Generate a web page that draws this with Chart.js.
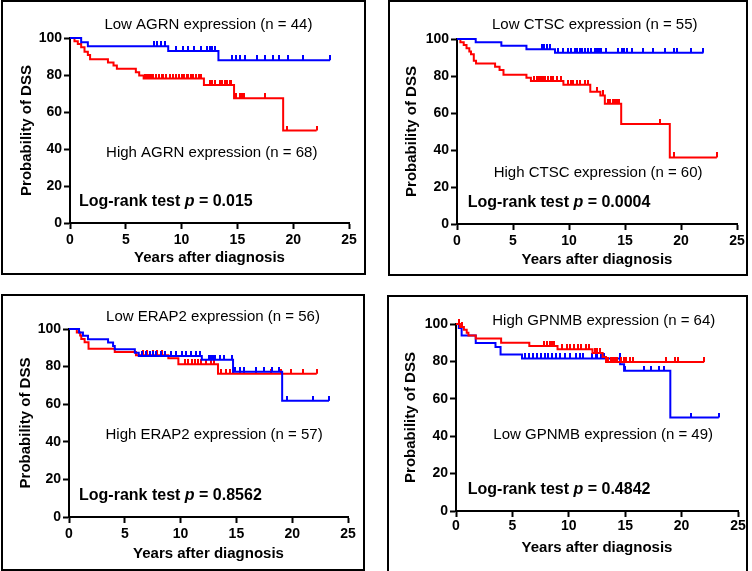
<!DOCTYPE html>
<html>
<head>
<meta charset="utf-8">
<script src="https://cdn.jsdelivr.net/npm/chart.js@4.4.1/dist/chart.umd.min.js"></script>
<style>
  html, body { margin: 0; padding: 0; background: #fff; width: 752px; height: 571px; overflow: hidden; }
  .panel { position: absolute; }
  .panel canvas { position: absolute; left: 0; top: 0; }
  .panel .frame { position: absolute; left: 0; top: 0; right: 0; bottom: 0; border: 2px solid #000; box-sizing: border-box; pointer-events: none; }
</style>
</head>
<body>
<div class="panel" style="left:1px;top:0px;width:365px;height:275px"><canvas id="c1" width="365" height="275"></canvas><div class="frame"></div></div>
<div class="panel" style="left:388px;top:0px;width:360px;height:276px"><canvas id="c2" width="360" height="276"></canvas><div class="frame"></div></div>
<div class="panel" style="left:1px;top:294px;width:364px;height:277px"><canvas id="c3" width="364" height="277"></canvas><div class="frame"></div></div>
<div class="panel" style="left:387px;top:295px;width:361px;height:280px"><canvas id="c4" width="361" height="280"></canvas><div class="frame"></div></div>
<script>
// axis ticks
const xTicks = [0, 5, 10, 15, 20, 25];
const yTicks = [0, 20, 40, 60, 80, 100];

// AGRN (top left)
const agrnLowTimes = [0, 1.0, 1.6, 8.8, 13.3, 23.3];
const agrnLowSurv = [100, 97.7, 95.5, 93.0, 88.0, 88.0];
const agrnLowCensor = [7.55, 7.8, 8.15, 8.55, 9.5, 10.1, 10.55, 11.1, 11.7, 12.3, 12.5, 12.7, 13.0, 14.5, 14.9, 15.2, 15.7, 16.8, 17.5, 18.2, 18.7, 19.5, 20.9, 23.3];
const agrnHighTimes = [0, 0.4, 0.7, 1.0, 1.3, 1.6, 1.8, 3.4, 3.9, 4.2, 5.9, 6.2, 6.6, 12.0, 14.7, 19.1, 22.1];
const agrnHighSurv = [100, 98.3, 96.7, 95.0, 92.6, 90.8, 88.5, 86.8, 85.1, 83.4, 81.5, 79.7, 78.1, 74.6, 67.4, 50.0, 50.0];
const agrnHighCensor = [6.7, 6.9, 7.05, 7.25, 7.45, 7.7, 8.0, 8.2, 8.35, 8.6, 8.95, 9.2, 9.5, 9.8, 10.0, 10.2, 10.45, 10.6, 10.85, 11.0, 11.3, 11.6, 11.75, 12.5, 12.7, 12.95, 13.4, 13.6, 13.85, 14.1, 14.3, 14.45, 14.9, 15.2, 15.4, 15.6, 17.5, 19.45, 22.1];

// CTSC (top right)
const ctscLowTimes = [0, 1.67, 3.96, 6.2, 8.75, 22.0];
const ctscLowSurv = [100, 98.2, 96.4, 94.5, 92.6, 92.6];
const ctscLowCensor = [7.55, 7.75, 8.0, 8.3, 9.0, 9.5, 9.9, 10.2, 10.5, 10.7, 10.95, 11.2, 11.4, 11.7, 12.0, 12.3, 12.5, 12.7, 12.9, 13.3, 14.4, 14.7, 14.9, 15.15, 15.6, 16.6, 17.5, 18.6, 19.35, 19.65, 20.85, 22.0];
const ctscHighTimes = [0, 0.3, 0.6, 0.85, 1.1, 1.25, 1.5, 1.7, 3.4, 3.8, 4.15, 6.2, 6.6, 9.5, 11.9, 12.8, 13.2, 14.66, 19.0, 23.2];
const ctscHighSurv = [100, 98.3, 96.7, 95.0, 93.3, 91.7, 88.3, 86.7, 85.0, 83.3, 80.7, 79.0, 77.3, 75.3, 71.5, 69.5, 65.0, 54.0, 36.0, 36.0];
const ctscHighCensor = [6.9, 7.1, 7.3, 7.5, 7.7, 7.9, 8.1, 8.4, 8.6, 8.9, 9.3, 9.9, 10.2, 10.4, 10.7, 11.0, 11.4, 11.7, 12.5, 13.0, 13.5, 13.7, 13.9, 14.1, 14.3, 14.5, 18.1, 19.4, 23.2];

// ERAP2 (bottom left)
const erap2LowTimes = [0, 0.9, 1.25, 1.7, 3.5, 3.95, 4.1, 5.9, 6.25, 11.9, 14.7, 19.1, 23.3];
const erap2LowSurv = [100, 98.2, 96.4, 94.6, 92.8, 91.0, 89.2, 87.4, 85.6, 83.6, 77.3, 61.8, 61.8];
const erap2LowCensor = [6.55, 6.93, 7.23, 7.53, 7.83, 8.28, 8.64, 9.11, 9.62, 10.13, 10.52, 10.97, 11.42, 11.71, 12.5, 12.7, 12.9, 13.1, 13.5, 13.85, 14.6, 14.9, 15.3, 15.7, 16.8, 17.5, 18.2, 18.8, 19.5, 21.9, 23.3];
const erap2HighTimes = [0, 0.7, 1.0, 1.1, 1.4, 1.75, 4.1, 6.0, 8.9, 9.8, 13.35, 22.2];
const erap2HighSurv = [100, 98.2, 96.5, 94.7, 93.0, 89.5, 87.7, 86.0, 84.4, 81.2, 76.2, 76.2];
const erap2HighCensor = [6.6, 7.0, 7.5, 7.9, 8.3, 10.4, 10.7, 11.0, 11.3, 11.6, 11.8, 12.3, 12.7, 13.0, 13.65, 14.1, 14.4, 14.7, 15.3, 15.7, 16.8, 18.1, 19.0, 19.9, 21.0, 22.2];

// GPNMB (bottom right)
const gpnmbLowTimes = [0, 0.25, 0.5, 1.75, 3.5, 3.95, 5.85, 14.55, 14.9, 19.0, 23.3];
const gpnmbLowSurv = [100, 97.9, 93.9, 89.8, 87.7, 83.7, 81.6, 78.5, 75.0, 50.0, 50.0];
const gpnmbLowCensor = [6.15, 6.5, 6.8, 7.2, 7.5, 7.9, 8.2, 8.5, 8.9, 9.25, 9.7, 10.15, 10.6, 11.0, 11.3, 12.1, 12.4, 12.5, 12.85, 13.1, 14.5, 15.0, 16.7, 17.3, 18.0, 18.45, 20.85, 23.3];
const gpnmbHighTimes = [0, 0.35, 0.7, 0.95, 1.1, 1.75, 4.0, 6.5, 9.0, 12.1, 13.0, 13.3, 22.0];
const gpnmbHighSurv = [100, 98.4, 96.9, 95.3, 93.8, 92.2, 90.0, 88.3, 86.5, 84.5, 82.3, 79.7, 79.7];
const gpnmbHighCensor = [0.3, 0.55, 7.8, 8.1, 8.3, 8.5, 8.7, 9.4, 9.8, 10.1, 10.5, 10.8, 11.1, 11.5, 11.8, 12.3, 12.5, 12.8, 13.5, 13.7, 13.9, 14.1, 14.3, 14.6, 14.9, 15.1, 15.4, 15.7, 18.6, 19.4, 19.7, 22.0];

const BLUE = 'rgb(0,0,255)';
const RED = 'rgb(255,0,0)';
const FONT = '"Liberation Sans", Arial, sans-serif';

function survAt(times, surv, t) {
  let s = surv[0];
  for (let i = 0; i < times.length; i++) if (times[i] <= t) s = surv[i];
  return s;
}

// small vertical censor tick sitting on top of the line
function tickMark(color) {
  const c = document.createElement('canvas');
  c.width = 2; c.height = 10;
  const g = c.getContext('2d');
  g.fillStyle = color;
  g.fillRect(0, 0, 2, 5);
  return c;
}

function curveSets(times, surv, censor, color) {
  return [
    {
      data: times.map((t, i) => ({ x: t, y: surv[i] })),
      borderColor: color, borderWidth: 2, pointRadius: 0, stepped: true, fill: false, clip: false
    },
    {
      data: censor.map(t => ({ x: t, y: survAt(times, surv, t) })),
      showLine: false, pointStyle: tickMark(color), pointRadius: 3, borderColor: color, backgroundColor: color, clip: false
    }
  ];
}

const notesPlugin = {
  id: 'notes',
  afterDraw(chart, args, opts) {
    const { ctx, scales: { x, y } } = chart;
    ctx.save();
    ctx.fillStyle = '#000';
    ctx.textBaseline = 'middle';
    for (const n of opts.items || []) {
      const px = x.getPixelForValue(n.x), py = y.getPixelForValue(n.y);
      if (n.parts) {
        ctx.textAlign = 'left';
        let cx = px;
        for (const p of n.parts) {
          ctx.font = p.font;
          ctx.fillText(p.text, cx, py);
          cx += ctx.measureText(p.text).width;
        }
      } else {
        ctx.font = '15px ' + FONT;
        ctx.textAlign = 'center';
        ctx.fillText(n.text, px, py);
      }
    }
    ctx.restore();
  }
};

function logRank(p, x, y) {
  return {
    x, y, parts: [
      { text: 'Log-rank test ', font: 'bold 16px ' + FONT },
      { text: 'p', font: 'italic bold 16px ' + FONT },
      { text: ' = ' + p, font: 'bold 16px ' + FONT }
    ]
  };
}

const panels = [
  {
    id: 'c1', w: 365, h: 275, area: { l: 69, t: 38, r: 348, b: 223 }, yTitlePad: 16.7, xTitlePad: 8, xTickPad: 3,
    sets: [...curveSets(agrnLowTimes, agrnLowSurv, agrnLowCensor, BLUE), ...curveSets(agrnHighTimes, agrnHighSurv, agrnHighCensor, RED)],
    notes: [
      { text: 'Low AGRN expression (n = 44)', x: 12.4, y: 107 },
      { text: 'High AGRN expression (n = 68)', x: 12.7, y: 38 },
      logRank('0.015', 0.8, 11.5)
    ]
  },
  {
    id: 'c2', w: 360, h: 276, area: { l: 69, t: 39, r: 349, b: 224 }, yTitlePad: 14.8, xTitlePad: 7, xTickPad: 3,
    sets: [...curveSets(ctscLowTimes, ctscLowSurv, ctscLowCensor, BLUE), ...curveSets(ctscHighTimes, ctscHighSurv, ctscHighCensor, RED)],
    notes: [
      { text: 'Low CTSC expression (n = 55)', x: 12.3, y: 107.6 },
      { text: 'High CTSC expression (n = 60)', x: 12.6, y: 27.6 },
      logRank('0.0004', 0.95, 11.5)
    ]
  },
  {
    id: 'c3', w: 364, h: 277, area: { l: 68, t: 35, r: 347, b: 223 }, yTitlePad: 15.8, xTitlePad: 8, xTickPad: 3,
    sets: [...curveSets(erap2LowTimes, erap2LowSurv, erap2LowCensor, BLUE), ...curveSets(erap2HighTimes, erap2HighSurv, erap2HighCensor, RED)],
    notes: [
      { text: 'Low ERAP2 expression (n = 56)', x: 12.9, y: 106.2 },
      { text: 'High ERAP2 expression (n = 57)', x: 13.0, y: 43.8 },
      logRank('0.8562', 0.9, 11.3)
    ]
  },
  {
    id: 'c4', w: 361, h: 280, area: { l: 69, t: 29, r: 351, b: 216 }, yTitlePad: 14.8, xTitlePad: 18.5, xTickPad: 1,
    sets: [...curveSets(gpnmbHighTimes, gpnmbHighSurv, gpnmbHighCensor, RED), ...curveSets(gpnmbLowTimes, gpnmbLowSurv, gpnmbLowCensor, BLUE)],
    notes: [
      { text: 'High GPNMB expression (n = 64)', x: 13.1, y: 101.6 },
      { text: 'Low GPNMB expression (n = 49)', x: 13.05, y: 40.5 },
      logRank('0.4842', 1.04, 11.6)
    ]
  }
];

for (const p of panels) {
  new Chart(document.getElementById(p.id), {
    type: 'line',
    data: { datasets: p.sets },
    plugins: [notesPlugin],
    options: {
      responsive: false,
      animation: false,
      events: [],
      layout: { padding: { left: 0, top: p.area.t, right: p.w - p.area.r, bottom: 0 } },
      plugins: { legend: { display: false }, tooltip: { enabled: false }, notes: { items: p.notes } },
      scales: {
        x: {
          type: 'linear', min: 0, max: 25,
          afterFit: s => { s.height = p.h - p.area.b; },
          afterBuildTicks: s => { s.ticks = xTicks.map(v => ({ value: v })); },
          grid: { drawOnChartArea: false, tickLength: 6, tickWidth: 2, tickColor: '#000' },
          border: { color: '#000', width: 2 },
          ticks: { color: '#000', padding: p.xTickPad, maxRotation: 0, font: { family: FONT, size: 14, weight: 'bold' } },
          title: { display: true, text: 'Years after diagnosis', color: '#000', padding: { top: 0, bottom: p.xTitlePad }, font: { family: FONT, size: 15, weight: 'bold' } }
        },
        y: {
          type: 'linear', min: 0, max: 100,
          afterFit: s => { s.width = p.area.l; },
          afterBuildTicks: s => { s.ticks = yTicks.map(v => ({ value: v })); },
          grid: { drawOnChartArea: false, tickLength: 6, tickWidth: 2, tickColor: '#000' },
          border: { color: '#000', width: 2 },
          ticks: { color: '#000', padding: 2, font: { family: FONT, size: 14, weight: 'bold' } },
          title: { display: true, text: 'Probability of DSS', color: '#000', padding: { top: p.yTitlePad, bottom: 0 }, font: { family: FONT, size: 15, weight: 'bold' } }
        }
      }
    }
  });
}
</script>
</body>
</html>
